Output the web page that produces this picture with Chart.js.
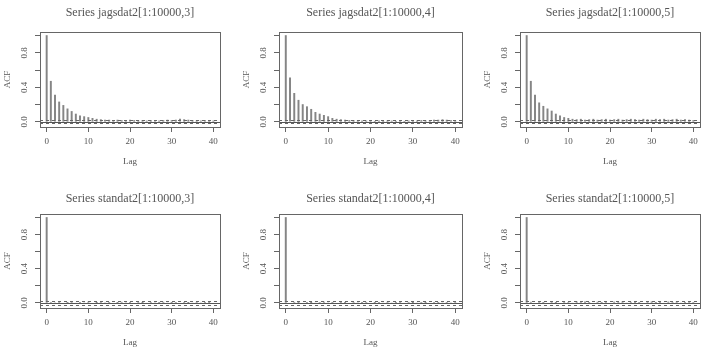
<!DOCTYPE html>
<html>
<head>
<meta charset="utf-8">
<script src="https://cdn.jsdelivr.net/npm/chart.js@4/dist/chart.umd.min.js"></script>
<style>
  body { margin: 0; background: #fff; width: 705px; height: 351px; overflow: hidden; position: relative; }
  canvas { position: absolute; }
</style>
</head>
<body>
<script>
// data //////////////////////////////////////////////////
var lags = [0,1,2,3,4,5,6,7,8,9,10,11,12,13,14,15,16,17,18,19,20,21,22,23,24,25,26,27,28,29,30,31,32,33,34,35,36,37,38,39,40];
var xTicks = [0, 10, 20, 30, 40];
var yTicks = [0, 0.2, 0.4, 0.6, 0.8, 1.0];
var yTickLabels = ['0.0', '', '0.4', '', '0.8', ''];
var nObs = 10000;

var titles = [
  'Series jagsdat2[1:10000,3]', 'Series jagsdat2[1:10000,4]', 'Series jagsdat2[1:10000,5]',
  'Series standat2[1:10000,3]', 'Series standat2[1:10000,4]', 'Series standat2[1:10000,5]'
];

var jags3 = [1, 0.47, 0.31, 0.23, 0.19, 0.15, 0.12, 0.09, 0.07, 0.06, 0.05, 0.04, 0.03, 0.025, 0.02, 0.02, 0.015, 0.02, 0.015, 0.01, 0.02,
  0.015, 0.01, 0.015, 0.01, 0.015, 0.01, 0.01, 0.015, 0.02, 0.015, 0.02, 0.03, 0.025, 0.02, 0.015, 0.01, 0.01, 0.015, 0.01, 0.01];
var jags4 = [1, 0.51, 0.33, 0.25, 0.20, 0.175, 0.145, 0.11, 0.09, 0.075, 0.06, 0.04, 0.03, 0.025, 0.02, 0.015, 0.015, 0.01, 0.01, 0.01, 0.01,
  0.005, 0.01, 0.005, 0.01, 0.01, 0.005, 0.01, 0.005, 0.01, 0.01, 0.01, 0.015, 0.01, 0.015, 0.02, 0.02, 0.025, 0.02, 0.015, 0.01];
var jags5 = [1, 0.47, 0.31, 0.22, 0.18, 0.15, 0.125, 0.09, 0.07, 0.05, 0.04, 0.03, 0.025, 0.03, 0.02, 0.025, 0.03, 0.02, 0.025, 0.03, 0.02,
  0.025, 0.03, 0.02, 0.025, 0.03, 0.025, 0.02, 0.03, 0.025, 0.02, 0.03, 0.025, 0.03, 0.02, 0.025, 0.03, 0.02, 0.025, 0.02, 0.015];
var stan3 = [1, 0.006, -0.004, 0.008, -0.006, 0.003, 0.007, -0.005, 0.004, -0.003, 0.009, -0.007, 0.002, 0.006, -0.004, 0.005, -0.006, 0.003, 0.008, -0.002, 0.004,
  -0.006, 0.007, 0.002, -0.005, 0.006, -0.003, 0.004, 0.008, -0.004, 0.003, 0.006, -0.007, 0.005, 0.002, -0.004, 0.007, -0.003, 0.005, 0.004, -0.006];
var stan4 = [1, -0.005, 0.007, 0.003, -0.006, 0.005, 0.002, -0.004, 0.006, 0.009, -0.003, 0.004, -0.007, 0.005, 0.003, -0.005, 0.006, -0.002, 0.004, 0.007, -0.006,
  0.003, 0.005, -0.004, 0.008, -0.003, 0.004, 0.006, -0.005, 0.007, 0.002, -0.004, 0.005, 0.003, -0.006, 0.006, 0.004, -0.003, 0.005, -0.002, 0.006];
var stan5 = [1, 0.008, -0.006, 0.012, 0.004, -0.007, 0.01, 0.003, -0.005, 0.009, 0.006, -0.004, 0.011, 0.007, 0.013, 0.005, -0.006, 0.009, 0.004, 0.008, -0.005,
  0.01, 0.006, 0.012, -0.004, 0.007, 0.011, 0.005, -0.006, 0.009, 0.012, 0.004, 0.008, -0.005, 0.011, 0.006, 0.009, -0.004, 0.007, 0.012, 0.006];

var series = [jags3, jags4, jags5, stan3, stan4, stan5];

// layout of the 2x3 panel grid ////////////////////////////////////////////////
var colBoxLeft = [40, 279, 520];
var colBoxWidth = [180, 183, 180];
var rowBoxTop = [32, 214];
var rowBoxHeight = [95, 94];
var rowTitlePad = [[5.8, 11.8], [9.8, 7.8]];

var ci = 1.96 / Math.sqrt(nObs);
var xMin = -1.6, xMax = 41.6;
var yMin = -0.0604, yMax = 1.0408;

var textColor = '#555';
var lineColor = '#666';
var serif = "'Liberation Serif', 'Times New Roman', serif";

// box around the plot + abline(h=0) + dashed confidence limits
var acfExtras = {
  id: 'acfExtras',
  afterDatasetsDraw: function(chart) {
    var ctx = chart.ctx, a = chart.chartArea, ys = chart.scales.y;
    ctx.save();
    ctx.lineWidth = 1;
    ctx.strokeStyle = '#555';
    var y0 = Math.round(ys.getPixelForValue(0)) + 0.5;
    ctx.beginPath(); ctx.moveTo(a.left, y0); ctx.lineTo(a.right, y0); ctx.stroke();
    ctx.strokeStyle = '#666';
    ctx.setLineDash([3, 3]);
    [ci, -ci].forEach(function(v) {
      var yy = Math.round(ys.getPixelForValue(v)) + 0.5;
      ctx.beginPath(); ctx.moveTo(a.left, yy); ctx.lineTo(a.right, yy); ctx.stroke();
    });
    ctx.setLineDash([]);
    ctx.strokeStyle = lineColor;
    ctx.strokeRect(Math.round(a.left) + 0.5, Math.round(a.top) + 0.5, Math.round(a.right - a.left), Math.round(a.bottom - a.top));
    ctx.restore();
  }
};

function makePanel(idx) {
  var row = Math.floor(idx / 3), col = idx % 3;
  var cv = document.createElement('canvas');
  var w = 40 + colBoxWidth[col] + 2;
  var h = 32 + rowBoxHeight[row] + 48;
  cv.width = w; cv.height = h;
  cv.style.left = (colBoxLeft[col] - 40) + 'px';
  cv.style.top = (rowBoxTop[row] - 32) + 'px';
  document.body.appendChild(cv);

  var vals = series[idx];
  var pts = lags.map(function(l, i) { return {x: l, y: vals[i]}; });

  new Chart(cv.getContext('2d'), {
    type: 'bar',
    data: {
      datasets: [{
        data: pts,
        backgroundColor: '#858585',
        borderWidth: 0,
        barThickness: 1.3
      }]
    },
    options: {
      responsive: false,
      animation: false,
      layout: { padding: { left: 0, right: 2, top: 0, bottom: 8 } },
      plugins: {
        legend: { display: false },
        tooltip: { enabled: false },
        title: {
          display: true,
          fullSize: false,
          text: titles[idx],
          color: textColor,
          font: { family: serif, size: 12, weight: 'normal', lineHeight: 1.2 },
          padding: { top: rowTitlePad[row][0], bottom: rowTitlePad[row][1] }
        }
      },
      scales: {
        x: {
          type: 'linear',
          min: xMin, max: xMax,
          offset: false,
          afterBuildTicks: function(s) { s.ticks = xTicks.map(function(v) { return {value: v}; }); },
          afterFit: function(s) { s.height = 40; },
          grid: { drawOnChartArea: false, drawTicks: true, tickLength: 5, color: lineColor, offset: false },
          border: { display: false },
          ticks: {
            autoSkip: false, maxRotation: 0, padding: 4, color: textColor,
            font: { family: serif, size: 9 }
          },
          title: {
            display: true, text: 'Lag', color: textColor,
            font: { family: serif, size: 9 }, padding: 0
          }
        },
        y: {
          min: yMin, max: yMax,
          afterBuildTicks: function(s) { s.ticks = yTicks.map(function(v) { return {value: v}; }); },
          afterFit: function(s) { s.width = 40; },
          grid: { drawOnChartArea: false, drawTicks: true, tickLength: 5, color: lineColor },
          border: { display: false },
          ticks: {
            autoSkip: false, minRotation: 90, maxRotation: 90, crossAlign: 'center', padding: 5,
            color: textColor, font: { family: serif, size: 9 },
            callback: function(v, i) { return yTickLabels[i]; }
          },
          title: {
            display: true, text: 'ACF', color: textColor,
            font: { family: serif, size: 9 }, padding: 2
          }
        }
      }
    },
    plugins: [acfExtras]
  });
}

for (var i = 0; i < 6; i++) makePanel(i);
</script>
</body>
</html>
